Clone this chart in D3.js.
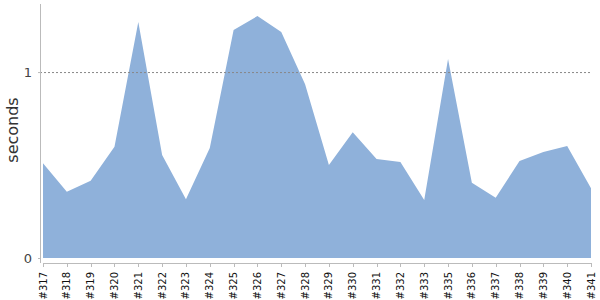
<!DOCTYPE html>
<meta charset="utf-8">
<style>
body {
  margin: 0;
  padding: 0;
  background: #fff;
  font-family: "DejaVu Sans", sans-serif;
}
svg text {
  stroke: none;
}
.yaxis text {
  fill: #444;
  font-size: 13px;
}
.xaxis text {
  fill: #111;
  font-size: 10px;
}
.ylabel {
  fill: #333;
  font-size: 16px;
}
</style>
<body>
<div id="chart"></div>
<script src="https://d3js.org/d3.v7.min.js"></script>
<script>

var builds = ['#317', '#318', '#319', '#320', '#321', '#322', '#323', '#324', '#325', '#326',
  '#327', '#328', '#329', '#330', '#331', '#332', '#333', '#335', '#336', '#337',
  '#338', '#339', '#340', '#341'];
var seconds = [0.509, 0.356, 0.416, 0.598, 1.269, 0.554, 0.316, 0.591, 1.226, 1.301,
  1.215, 0.935, 0.500, 0.676, 0.532, 0.516, 0.312, 1.070, 0.405, 0.324,
  0.521, 0.570, 0.602, 0.375];
var yTicks = [0, 1];

var width = 600, height = 300;
var plotLeft = 43, plotRight = 591, plotTop = 4, baseline = 258;

var svg = d3.select('#chart').append('svg')
  .attr('width', width)
  .attr('height', height);

var x = d3.scalePoint()
  .domain(builds)
  .range([plotLeft, plotRight]);

var y = d3.scaleLinear()
  .domain([0, 1.366])
  .range([baseline, plotTop]);

var area = d3.area()
  .x(function (d, i) { return x(builds[i]); })
  .y0(baseline)
  .y1(function (d) { return y(d); });

svg.append('path')
  .datum(seconds)
  .attr('fill', '#8fb1da')
  .attr('d', area);

// reference line at 1 second
svg.append('line')
  .attr('x1', 40).attr('x2', plotRight)
  .attr('y1', y(1) + 0.5).attr('y2', y(1) + 0.5)
  .attr('stroke', '#888')
  .attr('stroke-width', 1)
  .attr('stroke-dasharray', '2,2');

// y axis
var yAxis = svg.append('g').attr('class', 'yaxis');
yAxis.append('line')
  .attr('x1', 40.5).attr('x2', 40.5)
  .attr('y1', plotTop).attr('y2', 263)
  .attr('stroke', '#bbb');
yAxis.selectAll('.tick')
  .data(yTicks)
  .enter().append('line')
  .attr('x1', 38).attr('x2', 40)
  .attr('y1', function (d) { return y(d) + 0.5; })
  .attr('y2', function (d) { return y(d) + 0.5; })
  .attr('stroke', '#bbb');
yAxis.selectAll('text')
  .data(yTicks)
  .enter().append('text')
  .attr('x', 32)
  .attr('y', function (d) { return y(d); })
  .attr('dy', '0.35em')
  .attr('text-anchor', 'end')
  .text(function (d) { return d; });

svg.append('text')
  .attr('class', 'ylabel')
  .attr('transform', 'translate(18,130) rotate(-90)')
  .attr('text-anchor', 'middle')
  .text('seconds');

// x axis
var xAxis = svg.append('g').attr('class', 'xaxis');
xAxis.append('line')
  .attr('x1', plotLeft).attr('x2', plotRight)
  .attr('y1', 263.5).attr('y2', 263.5)
  .attr('stroke', '#bbb');
xAxis.selectAll('.tick')
  .data(builds)
  .enter().append('line')
  .attr('x1', function (d) { return Math.round(x(d)) + 0.5; })
  .attr('x2', function (d) { return Math.round(x(d)) + 0.5; })
  .attr('y1', 263).attr('y2', 267)
  .attr('stroke', '#bbb');
xAxis.selectAll('text')
  .data(builds)
  .enter().append('text')
  .attr('transform', function (d) {
    return 'translate(' + (x(d) + 3.5) + ',272) rotate(-90)';
  })
  .attr('text-anchor', 'end')
  .text(function (d) { return d; });

</script>
